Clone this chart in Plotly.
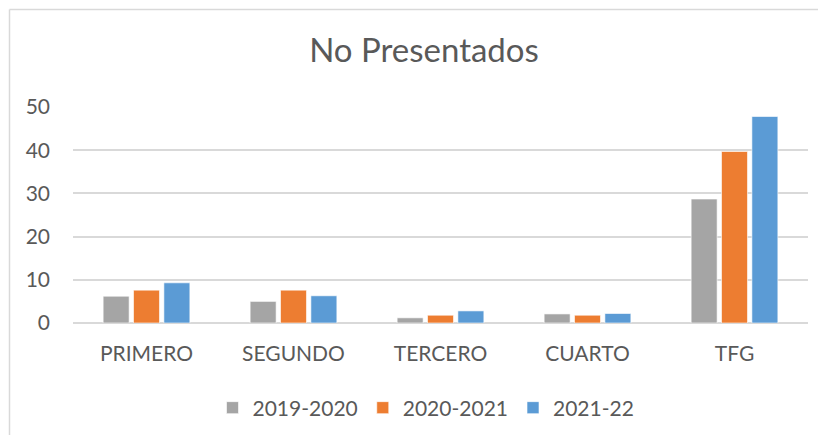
import plotly.graph_objects as go

categories = ["PRIMERO", "SEGUNDO", "TERCERO", "CUARTO", "TFG"]
s2019 = [6.2, 5.0, 1.2, 2.1, 28.7]
s2020 = [7.6, 7.6, 1.8, 1.8, 39.7]
s2021 = [9.3, 6.3, 2.8, 2.2, 47.8]
series_names = ["2019-2020", "2020-2021", "2021-22"]
colors = ["#A5A5A5", "#ED7D31", "#5B9BD5"]
y_ticks = [0, 10, 20, 30, 40, 50]

# page body has an 8px margin; keep the figure inside the window to avoid scrollbars
OFF = 8
W, H = 826 - 2 * OFF, 443 - 2 * OFF
PLOT_L, PLOT_R, PLOT_T, PLOT_B = 73, 808, 107, 323  # reference page pixels
L, R, T, B = PLOT_L - OFF, (W + OFF) - PLOT_R, PLOT_T - OFF, (H + OFF) - PLOT_B
pw, ph = W - L - R, H - T - B

FONT = "Lato, Open Sans, sans-serif"
TXT = "#595959"

fig = go.Figure()
for name, vals, c in zip(series_names, [s2019, s2020, s2021], colors):
    fig.add_trace(go.Bar(x=categories, y=vals, name=name,
                         marker=dict(color=c, line=dict(color="rgba(255,255,255,0.6)", width=1))))

def px_x(p):
    return (p - PLOT_L) / pw

def px_y(p):
    return (PLOT_B - p) / ph

border = dict(color="#D9D9D9", width=1.5)
fig.update_layout(
    width=W, height=H,
    margin=dict(l=L, r=R, t=T, b=B, autoexpand=False),
    paper_bgcolor="white", plot_bgcolor="white",
    font=dict(family=FONT, color=TXT, size=21),
    title=dict(text="No Presentados", x=(424 - OFF) / W, xanchor="center",
               y=1 - (50 - OFF) / H, yanchor="middle", font=dict(size=33, color=TXT, family=FONT)),
    barmode="group", bargap=0.38, bargroupgap=0.145,
    showlegend=True,
    legend=dict(orientation="h", x=px_x(426), xanchor="center", y=px_y(408), yanchor="middle",
                font=dict(size=21, color=TXT, family=FONT), traceorder="normal"),
    xaxis=dict(showgrid=False, showline=False, ticks="", ticklabelstandoff=16,
               tickfont=dict(size=21, color=TXT, family=FONT)),
    yaxis=dict(range=[0, 50], tickvals=y_ticks, showgrid=True, gridcolor="#D9D9D9", gridwidth=1.5,
               zeroline=True, zerolinecolor="#D9D9D9", zerolinewidth=1.5, showline=False,
               ticks="", ticklabelstandoff=22, tickfont=dict(size=21, color=TXT, family=FONT)),
    shapes=[
        dict(type="line", xref="paper", yref="paper",
             x0=px_x(9.5), x1=px_x(9.5), y0=px_y(500), y1=px_y(9.5), line=border, layer="below"),
        dict(type="line", xref="paper", yref="paper",
             x0=px_x(9.5), x1=px_x(900), y0=px_y(9.5), y1=px_y(9.5), line=border, layer="below"),
    ],
)

fig.write_html("out.html")
